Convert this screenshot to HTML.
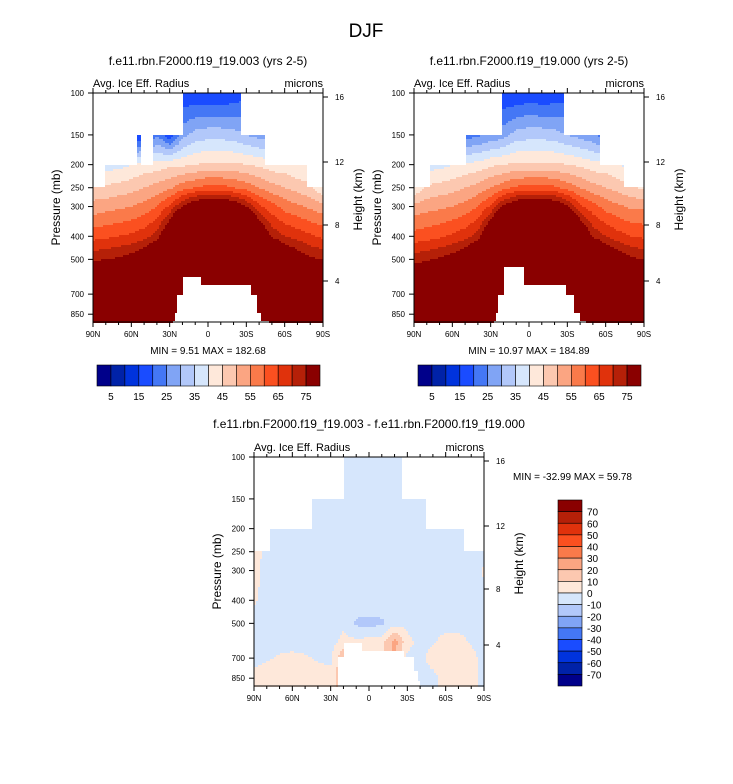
<!DOCTYPE html>
<html><head><meta charset="utf-8">
<style>
body{margin:0;background:#fff;}
svg{display:block;font-family:"Liberation Sans",Arial,sans-serif;}
</style></head>
<body>
<svg id="fig" width="733" height="784" viewBox="0 0 733 784">
<rect x="0" y="0" width="733" height="784" fill="#fff"/>
<text x="366" y="37" font-size="19" text-anchor="middle">DJF</text>
</svg>
<script>
const P1 = [100,150,200,250,300,400,500,700,850,925];
const LATS = [90,80,70,60,50,40,30,20,10,0,-10,-20,-30,-40,-50,-60,-70,-80,-90];
const fieldA = [
[10,10,10,10,10,12,14,16,15,15,15,16,18,18,18,18,18,18,18],
[15,15,15,15,15,25,16,28,32,33,33,32,30,28,27,26,26,26,26],
[38,38,38,40,42,42,44,44,45,46,46,46,45,44,42,42,40,40,38],
[46,46,47,48,50,52,54,58,60,62,62,60,58,55,52,50,48,46,40],
[52,53,54,55,57,60,66,75,82,84,84,82,75,66,62,58,56,54,52],
[63,64,65,66,68,72,85,110,120,120,120,120,110,85,74,70,68,66,64],
[74,75,76,78,82,90,110,130,140,140,140,140,130,110,95,85,80,76,75],
[90,92,95,100,110,120,130,150,160,160,160,160,150,130,120,110,100,95,90],
[100,100,105,110,120,130,140,160,170,170,170,170,160,140,130,120,110,105,100],
[100,100,105,110,120,130,140,160,170,170,170,170,160,140,130,120,110,105,100]];
const fieldB = [
[10,10,10,10,10,12,14,15,15,16,15,16,17,18,18,18,18,18,18],
[15,15,15,15,22,24,26,28,32,33,33,32,30,28,26,22,26,26,26],
[36,38,38,40,41,42,44,45,46,46,46,46,45,44,42,42,40,38,38],
[40,46,47,48,50,52,55,58,61,62,62,61,58,55,52,50,48,46,44],
[52,53,54,55,57,60,66,76,82,84,84,82,76,66,62,58,56,54,54],
[62,63,64,66,68,72,86,110,120,120,120,120,110,86,74,70,67,65,64],
[73,74,76,78,82,90,110,130,140,140,140,140,130,110,95,85,80,76,75],
[90,92,95,100,110,120,130,150,160,160,160,160,150,130,120,110,100,95,90],
[100,100,105,110,120,130,140,160,170,170,170,170,160,140,130,120,110,105,100],
[100,100,105,110,120,130,140,160,170,170,170,170,160,140,130,120,110,105,100]];
const P2 = [100,150,200,250,300,400,500,600,700,850,925];
const fieldC = [
[-3,-3,-3,-3,-3,-3,-3,-3,-3,-3,-3,-3,-3,-3,-3,-3,-3,-3,-3],
[-3,-3,-3,-3,-3,-3,-3,-3,-3,-3,-3,-3,-3,-3,-3,-3,-3,-3,-3],
[-3,-3,-3,-3,-3,-3,-3,-3,-3,-3,-3,-3,-3,-3,-3,-3,-3,-3,-3],
[4,-3,-3,-3,-3,-3,-3,-3,-3,-3,-3,-3,-3,-3,-3,-3,-3,-3,-3],
[3,-3,-3,-3,-3,-3,-3,-3,-3,-3,-3,-3,-3,-3,-3,-3,-3,-3,1],
[1,-3,-3,-3,-3,-3,-3,-3,-3,-3,-3,-3,-3,-3,-3,-3,-3,-3,-3],
[-3,-3,-3,-3,-3,-3,-3,-1,-12,-13,-12,-4,-3,-3,-3,-3,-3,-3,-3],
[-3,-3,-3,-3,-3,-3,-3,2,3,4,6,25,3,-3,-1,3,3,-1,-3],
[-3,-1,1,2,1,-1,-2,20,3,6,8,20,-2,-3,4,5,5,3,-3],
[3,5,6,6,5,4,3,20,8,8,8,8,-3,-3,-3,4,5,4,-3],
[4,6,6,6,6,5,4,20,8,8,8,8,-3,-3,-3,4,5,4,-3]];
const masksA = [[90,20,100,150],[-26,-90,100,150],[90,56,150,200],[53,43,150,200],[-45,-90,150,200],[90,80,200,250],[-77,-90,200,250],
[20,6,598,1100],[6,-33,647,1100],[25,-38,700,1100],[26,-42,840,1100],[28,-47,900,1100]];
const masksB = [[90,21,100,150],[-27,-90,100,150],[90,49,150,200],[-55,-90,150,200],[90,77,200,250],[-74,-90,200,250],
[19,4,543,1100],[4,-29,647,1100],[25,-35,700,1100],[26,-40,840,1100],[27,-45,900,1100]];
const masksC = [[90,20,100,150],[-26,-90,100,150],[90,44,150,200],[-45,-90,150,200],[90,78,200,250],[-74,-90,200,250],
[20,6,600,1100],[6,-28,650,1100],[24,-35,690,1100],[24,-38,800,1100],[24,-40,880,1100]];
const thrTop = [5,10,15,20,25,30,35,40,45,50,55,60,65,70,75];
const thrDiff = [-70,-60,-50,-40,-30,-20,-10,0,10,20,30,40,50,60,70];
const topLabels = ["5","15","25","35","45","55","65","75"];
const diffLabels = ["70","60","50","40","30","20","10","0","-10","-20","-30","-40","-50","-60","-70"];
const pTicks = [100,150,200,250,300,400,500,700,850];
const hTicks = ["16","12","8","4"];
const hOffsets = [4,69,132,188];
const latTicks = ["90N","60N","30N","0","30S","60S","90S"];
const COLORS = ["#00008a","#0022a8","#0033dd","#1a4cff","#4477f5","#80a4f5","#b2c8fa","#d6e6fc","#fee8da","#fcc8b0","#fba582","#fa7a4a","#fb5020","#e0320c","#b52008","#8a0000"];

const NS="http://www.w3.org/2000/svg";
const svg=document.getElementById('fig');
const W=230,H=229,DEC=238;
function mk(tag,attrs,parent){const e=document.createElementNS(NS,tag);for(const k in attrs)e.setAttribute(k,attrs[k]);(parent||svg).appendChild(e);return e;}
function yOf(p){return Math.log10(p/100)*DEC;}
function pOf(y){return 100*Math.pow(10,y/DEC);}
function interp(field,P,lat,p){
  let fi=(90-lat)/10; fi=Math.max(0,Math.min(18,fi));
  const i0=Math.min(17,Math.floor(fi)), tx=fi-i0;
  const lp=Math.log(p); let j=0;
  while(j<P.length-2 && lp>Math.log(P[j+1])) j++;
  let ty=(lp-Math.log(P[j]))/(Math.log(P[j+1])-Math.log(P[j])); ty=Math.max(0,Math.min(1,ty));
  const a=field[j][i0],b=field[j][i0+1],c=field[j+1][i0],d=field[j+1][i0+1];
  return (a*(1-tx)+b*tx)*(1-ty)+(c*(1-tx)+d*tx)*ty;
}
function band(v,thr){let k=0;while(k<thr.length&&v>=thr[k])k++;return k;}
function masked(masks,lat,p){for(const m of masks){if(lat<=m[0]&&lat>=m[1]&&p>=m[2]&&p<=m[3])return true;}return false;}

function panel(x0,y0,field,P,masks,thr,name){
  const g=mk('g',{});
  
  
  const S=2;
  for(let py=0;py<H;py+=S){
    const p=pOf(py+S/2);
    let runStart=0,runCol=null;
    for(let px=0;px<=W;px+=S){
      let col=null;
      if(px<W){const lat=90-(px+S/2)/W*180;
        if(!masked(masks,lat,p)) col=COLORS[band(interp(field,P,lat,p),thr)];}
      if(col!==runCol){
        if(runCol){const r=mk('rect',{x:x0+runStart,y:y0+py,width:px-runStart,height:S,fill:runCol},g);
          
          }
        runStart=px;runCol=col;}
    }
  }
  const fr=mk('rect',{x:x0,y:y0,width:W,height:H,fill:'none',stroke:'#000','stroke-width':1});
  
  
  pTicks.forEach(pt=>{const y=y0+yOf(pt);
    const l=mk('line',{x1:x0-5,x2:x0,y1:y,y2:y,stroke:'#000'});
    
    
    const t=mk('text',{x:x0-9,y:y+3,'font-size':8,'text-anchor':'end'});t.textContent=pt;
    
    });
  hTicks.forEach((h,i)=>{const y=y0+hOffsets[i];
    const l=mk('line',{x1:x0+W,x2:x0+W+5,y1:y,y2:y,stroke:'#000'});
    
    
    const t=mk('text',{x:x0+W+12,y:y+3,'font-size':8});t.textContent=h;
    
    });
  for(let k=0;k<=18;k++){const x=x0+k*W/18;const L=(k%3===0)?5:3;
    const a=mk('line',{x1:x,x2:x,y1:y0,y2:y0-L,stroke:'#000'});
    
    
    const b=mk('line',{x1:x,x2:x,y1:y0+H,y2:y0+H+L,stroke:'#000'});
    
    }
  latTicks.forEach((s,i)=>{const t=mk('text',{x:x0+i*W/6,y:y0+H+15,'font-size':8,'text-anchor':'middle'});t.textContent=s;
    
    });
  const ta=mk('text',{x:x0,y:y0-6,'font-size':11});ta.textContent='Avg. Ice Eff. Radius';
  
  
  const tu=mk('text',{x:x0+W,y:y0-6,'font-size':11,'text-anchor':'end'});tu.textContent='microns';
  
  
  const yl=mk('text',{x:0,y:0,'font-size':12,'text-anchor':'middle',transform:`translate(${x0-33},${y0+H/2}) rotate(-90)`});yl.textContent='Pressure (mb)';
  
  
  const yr=mk('text',{x:0,y:0,'font-size':12,'text-anchor':'middle',transform:`translate(${x0+W+39},${y0+H/2-8}) rotate(-90)`});yr.textContent='Height (km)';
  
  
}
function txt(x,y,s,size,anchor,name){const t=mk('text',{x:x,y:y,'font-size':size,'text-anchor':anchor});t.textContent=s;
  
  }

panel(93,93,fieldA,P1,masksA,thrTop,'panel-003');
panel(414,93,fieldB,P1,masksB,thrTop,'panel-000');
panel(254,457,fieldC,P2,masksC,thrDiff,'panel-diff');

txt(208,65,'f.e11.rbn.F2000.f19_f19.003 (yrs 2-5)',12,'middle','panel-003-title');
txt(529,65,'f.e11.rbn.F2000.f19_f19.000 (yrs 2-5)',12,'middle','panel-000-title');
txt(369,428,'f.e11.rbn.F2000.f19_f19.003 - f.e11.rbn.F2000.f19_f19.000',12,'middle','diff-title');
txt(208,354,'MIN =   9.51  MAX = 182.68',10,'middle','panel-003-minmax');
txt(529,354,'MIN =  10.97  MAX = 184.89',10,'middle','panel-000-minmax');
txt(513,480,'MIN = -32.99  MAX =  59.78',10,'start','diff-minmax');

function hbar(x0,y0,w,h,name){
  const bw=w/16;
  COLORS.forEach((c,i)=>{const r=mk('rect',{x:x0+i*bw,y:y0,width:bw,height:h,fill:c,stroke:'#000','stroke-width':0.6});
    
    });
  topLabels.forEach((s,i)=>{const t=mk('text',{x:x0+(2*i+1)*bw,y:y0+h+14,'font-size':10,'text-anchor':'middle'});t.textContent=s;
    
    });
}
hbar(97,365,223,21,'colorbar-003');
hbar(418,365,223,21,'colorbar-000');
(function(){
  const x0=558,y0=500,w=24,h=186,bh=h/16;
  for(let i=0;i<16;i++){const r=mk('rect',{x:x0,y:y0+i*bh,width:w,height:bh,fill:COLORS[15-i],stroke:'#000','stroke-width':0.6});
    
    }
  diffLabels.forEach((s,i)=>{const t=mk('text',{x:x0+w+5,y:y0+(i+1)*bh+4,'font-size':10});t.textContent=s;
    
    });
})();
</script>
</body></html>
